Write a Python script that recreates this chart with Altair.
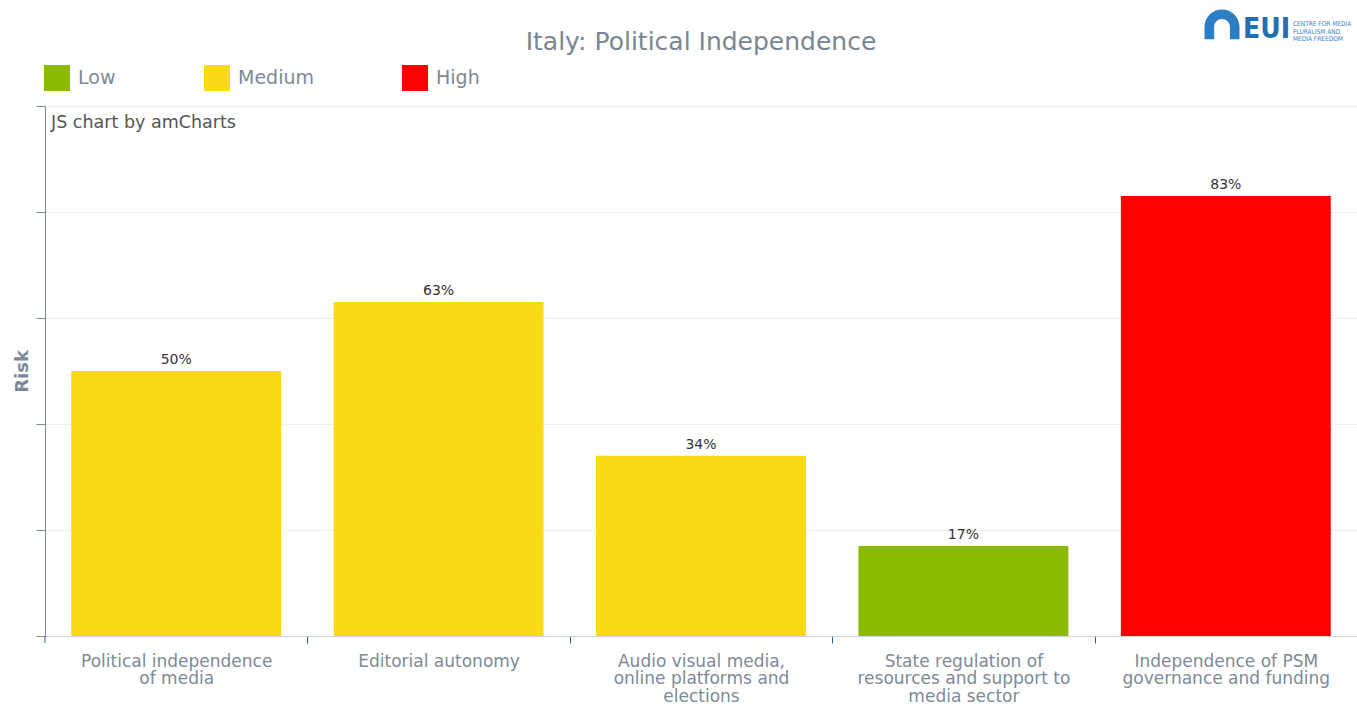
import altair as alt
import pandas as pd

categories = [
    "Political independence\nof media",
    "Editorial autonomy",
    "Audio visual media,\nonline platforms and\nelections",
    "State regulation of\nresources and support to\nmedia sector",
    "Independence of PSM\ngovernance and funding",
]
risk_values = [50, 63, 34, 17, 83]
risk_levels = ["Medium", "Medium", "Medium", "Low", "High"]
level_order = ["Low", "Medium", "High"]
level_colors = ["#8CBA00", "#FADA17", "#FF0000"]
y_ticks = [0, 20, 40, 60, 80, 100]
chart_title = "Italy: Political Independence"

df = pd.DataFrame({
    "category": categories,
    "value": risk_values,
    "level": risk_levels,
    "label": [f"{v}%" for v in risk_values],
})

gray = "#7d8a96"
W, H = 1312, 530
step = W / 5.0

x_enc = alt.X(
    "category:N", sort=categories,
    scale=alt.Scale(paddingInner=0.2, paddingOuter=0.1),
    axis=alt.Axis(
        title=None, labelAngle=0, labelExpr=r"split(datum.label, '\n')",
        tickOffset=step / 2, labelOffset=-step / 2,
        domainColor="#c9d3dc", tickColor="#2b5d8a",
        tickSize=7, labelColor=gray, labelFontSize=17, labelFont="DejaVu Sans",
        labelLineHeight=17.5, labelPadding=10, labelBaseline="top", labelLimit=300,
        grid=False,
    ),
)
y_enc = alt.Y(
    "value:Q",
    scale=alt.Scale(domain=[0, 100], nice=False),
    axis=alt.Axis(
        title="Risk", values=y_ticks, labels=False, tickSize=9, tickColor="#7d8a96",
        domainColor="#7d8a96", grid=True, gridColor="#eeeeee",
        titleFontSize=18, titleFontWeight="bold", titleColor=gray,
        titleFont="DejaVu Sans", titlePadding=4,
    ),
)

bars = alt.Chart(df).mark_bar().encode(
    x=x_enc, y=y_enc,
    color=alt.Color(
        "level:N",
        scale=alt.Scale(domain=level_order, range=level_colors),
        legend=alt.Legend(
            title=None, orient="none", direction="horizontal",
            legendX=-1, legendY=-41, symbolType="square", symbolSize=676,
            symbolStrokeWidth=0, symbolOpacity=1, labelFontSize=19,
            labelColor=gray, labelFont="DejaVu Sans", labelOffset=8,
            columnPadding=88, gridAlign="none",
        ),
    ),
)

texts = alt.Chart(df).mark_text(
    baseline="bottom", dy=-4, fontSize=14, color="#333333", font="DejaVu Sans"
).encode(x=alt.X("category:N", sort=categories), y="value:Q", text="label:N")

left_tick = alt.Chart(pd.DataFrame({"t": [0]})).mark_rule(color="#2b5d8a").encode(
    x=alt.value(0), y=alt.value(H), y2=alt.value(H + 7)
)

credit = alt.Chart(pd.DataFrame({"t": ["JS chart by amCharts"]})).mark_text(
    align="left", baseline="middle", fontSize=17.5, color="#555555", font="DejaVu Sans"
).encode(x=alt.value(6), y=alt.value(17), text="t:N")

title = alt.Chart(pd.DataFrame({"t": [chart_title]})).mark_text(
    align="center", baseline="alphabetic", fontSize=25, color="#7a8691", font="DejaVu Sans"
).encode(x=alt.value(656), y=alt.value(-56), text="t:N")

logo = alt.Chart(pd.DataFrame({"t": ["EUI"]})).mark_text(
    align="left", baseline="alphabetic", fontSize=28, fontWeight="bold",
    color="#1f6fb2", font="DejaVu Sans Condensed"
).encode(x=alt.value(1198), y=alt.value(-68), text="t:N")

logo_small = alt.Chart(pd.DataFrame({"t": [["CENTRE FOR MEDIA", "PLURALISM AND", "MEDIA FREEDOM"]]})).mark_text(
    align="left", baseline="top", fontSize=6.5, lineHeight=7.5,
    color="#3a85c6", font="DejaVu Sans Condensed"
).encode(x=alt.value(1248), y=alt.value(-85), text="t")

arch = alt.Chart(pd.DataFrame({"t": [1]})).mark_point(
    shape="M -1 0.75 L -1 0.05 A 1 1 0 0 1 1 0.05 L 1 0.75 L 0.45 0.75 L 0.45 0.05 A 0.45 0.45 0 0 0 -0.45 0.05 L -0.45 0.75 Z",
    filled=True, size=1225, color="#2c7fc2", opacity=1
).encode(x=alt.value(1177), y=alt.value(-80))

chart = alt.layer(bars, texts, left_tick, credit, title, logo, logo_small, arch).properties(
    width=W, height=H,
    autosize=alt.AutoSizeParams(type="none"),
    padding={"left": 45, "top": 106, "right": 0, "bottom": 68},
).configure_view(stroke=None)

chart.save("out.html", embed_options={"renderer": "svg", "actions": False})
